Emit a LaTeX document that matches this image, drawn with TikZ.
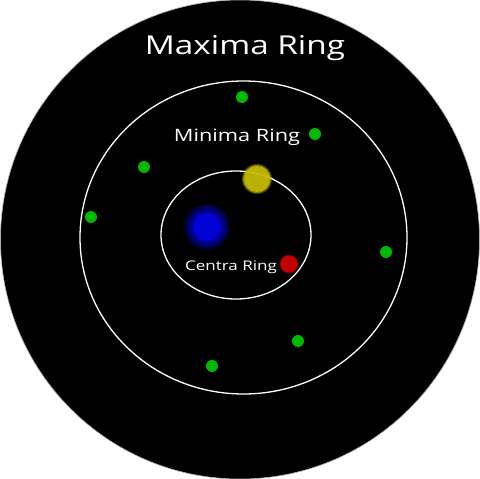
\documentclass[tikz,border=0pt]{standalone}
\usepackage{fontspec}
\setmainfont{Open Sans}[FakeStretch=1.28]
\definecolor{dotgreen}{RGB}{0,185,0}
\definecolor{dotyellow}{RGB}{200,190,0}
\definecolor{dotred}{RGB}{195,0,0}
\definecolor{dotblue}{RGB}{0,0,215}
\tikzset{
  ring/.style={draw=white, line width=1.3pt},
  ringlabel/.style={text=white, inner sep=0pt},
}
\begin{document}
\begin{tikzpicture}[x=1pt,y=-1pt]
  \useasboundingbox (0,0) rectangle (480,479);

  % black disc
  \fill[black, draw=gray!60, line width=0.6pt] (240,239.5) circle (239.5);

  % the two inner rings
  \draw[ring] (243.5,237.5) ellipse (163.5 and 156.5);
  \draw[ring] (236,235) ellipse (75 and 64);

  % green dots on the minima ring
  \foreach \P in {
    (242,97), (315,134), (144,167), (91,217),
    (386,252), (298,341), (212,366)}
    \fill[dotgreen] \P circle (6);

  % blue centre, blurred
  \foreach \r in {23,21,...,15}
    \fill[dotblue, opacity=0.22] (207,227) circle (\r);
  \fill[dotblue] (207,227) circle (14);

  % yellow dot over the centra ring
  \foreach \r/\o in {15/0.35, 14/0.5, 13/0.8}
    \fill[dotyellow, opacity=\o] (257,179) circle (\r);

  % red dot
  \fill[dotred, opacity=0.5] (289,264) circle (9.5);
  \fill[dotred] (289,264) circle (8.5);

  % labels
  \node[ringlabel, font=\fontsize{26}{30}\selectfont] (maxima) at (245,48) {Maxima Ring};
  \node[ringlabel, font=\fontsize{17}{20}\selectfont] (minima) at (237,137) {Minima Ring};
  \node[ringlabel, font=\fontsize{13.3}{16}\selectfont] (centra) at (231,267) {Centra Ring};
\end{tikzpicture}
\end{document}
